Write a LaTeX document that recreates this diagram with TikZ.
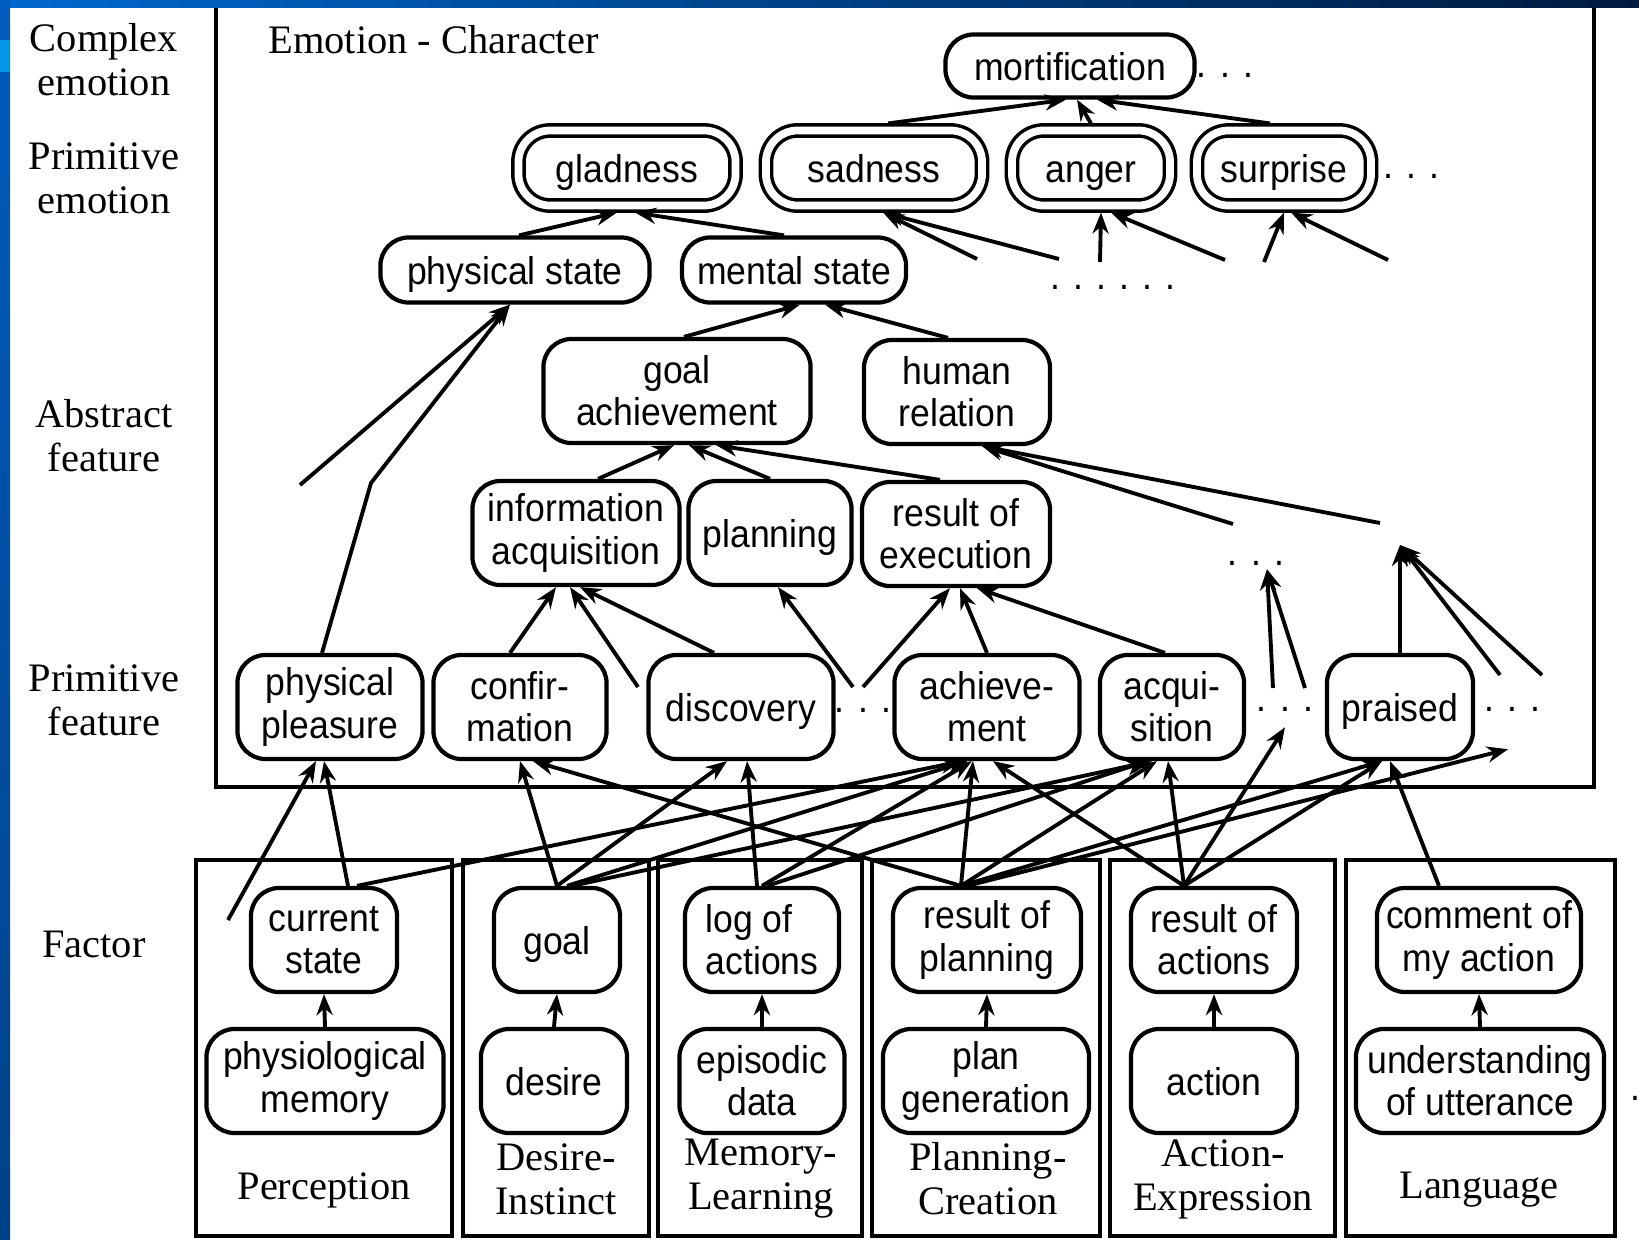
\documentclass[tikz,border=0pt]{standalone}
\usepackage{fontspec}
\newfontfamily\nodefont[FakeStretch=0.92]{Liberation Sans}
\newfontfamily\labelfont{Liberation Serif}
\usetikzlibrary{arrows.meta}

\definecolor{slideblue}{RGB}{0,104,206}
\definecolor{slidenavy}{RGB}{0,26,62}
\definecolor{sidetop}{RGB}{0,92,190}
\definecolor{sidebot}{RGB}{0,66,136}
\definecolor{sidecyan}{RGB}{0,150,230}

\tikzset{
  feat/.style={draw, line width=1.2pt, rounded corners=8pt, align=center, inner sep=1pt,
    minimum height=1.04cm, font=\nodefont\fontsize{11}{12}\selectfont},
  one/.style={text height=10pt, text depth=1.5pt},
  flat/.style={feat, one, rounded corners=8pt, minimum height=0.65cm},
  emo/.style={draw, one, line width=1pt, double, double distance=2.2pt, outer sep=2pt,
    rounded corners=9pt, inner sep=1pt, minimum height=0.75cm,
    font=\nodefont\fontsize{11}{12}\selectfont},
  more/.style={anchor=base, inner sep=1pt, font=\nodefont\fontsize{11}{12}\selectfont},
  lbl/.style={align=center, font=\labelfont\fontsize{11.5}{12.5}\selectfont},
  module/.style={draw, line width=1.2pt},
  link/.style={->, line width=1.1pt}
}

\begin{document}
\begin{tikzpicture}[x=0.01cm, y=-0.01cm, >={Stealth[length=6pt,width=4.6pt]}]
        \fill[white] (0,0) rectangle (1639,1239);
        \useasboundingbox (0,0) rectangle (1639,1239);

        % frames
        \draw[module] (216,3) rectangle (1594,787);
        \draw[module] (196,860) rectangle (452,1236);
        \draw[module] (463,860) rectangle (649,1236);
        \draw[module] (658,860) rectangle (862,1236);
        \draw[module] (872,860) rectangle (1100,1236);
        \draw[module] (1110,860) rectangle (1335,1236);
        \draw[module] (1346,860) rectangle (1615,1236);

        % level names
        \node[lbl] (lcomplex) at (104,60) {Complex\\emotion};
        \node[lbl] (lprimemo) at (104,178) {Primitive\\emotion};
        \node[lbl] (labstract) at (104,436) {Abstract\\feature};
        \node[lbl] (lprimfeat) at (104,700) {Primitive\\feature};
        \node[lbl] (lfactor) at (94,944) {Factor};
        \node[lbl, anchor=west] (ltitle) at (256,40) {Emotion - Character};

        % emotions
        \node[flat, minimum height=0.63cm, minimum width=2.49cm] (mort) at (1070,66) {mortification};
        \node[more] (dmort) at (1225,77) {. . .};
        \node[emo, minimum width=2.17cm] (glad) at (627,168) {gladness};
        \node[emo, minimum width=2.16cm] (sad) at (874,168) {sadness};
        \node[emo, minimum width=1.58cm] (anger) at (1091,168) {anger};
        \node[emo, minimum width=1.74cm] (surp) at (1284,168) {surprise};
        \node[more] (dsurp) at (1411,178) {. . .};
        \node[flat, minimum width=2.69cm] (phys) at (515,270) {physical state};
        \node[flat, minimum width=2.24cm] (ment) at (794,270) {mental state};
        \node[more] (dsix) at (1113,289) {. . . . . .};

        % abstract features
        \node[feat, minimum width=2.67cm] (goalach) at (677,391) {goal\\achievement};
        \node[feat, minimum width=1.86cm] (human) at (957,392) {human\\relation};
        \node[feat, minimum width=2.07cm] (info) at (576,533) {information\\acquisition};
        \node[feat, one, minimum width=1.63cm] (plan) at (770,533) {planning};
        \node[feat, minimum width=1.88cm] (result) at (956,534) {result of\\execution};
        \node[more] (dres) at (1256,565) {. . .};

        % primitive features
        \node[feat, minimum width=1.85cm] (pleas) at (330,707) {physical\\pleasure};
        \node[feat, minimum width=1.73cm] (confirm) at (520,707) {confir-\\mation};
        \node[feat, one, minimum width=1.85cm] (disc) at (741,707) {discovery};
        \node[more] (ddisc) at (863,712) {. . .};
        \node[feat, minimum width=1.85cm] (achieve) at (987,707) {achieve-\\ment};
        \node[feat, minimum width=1.44cm] (acqui) at (1172,707) {acqui-\\sition};
        \node[more] (dacq) at (1285,711) {. . .};
        \node[feat, one, minimum width=1.46cm] (praise) at (1400,707) {praised};
        \node[more] (dpraise) at (1512,711) {. . .};

        % factors
        \node[feat, minimum width=1.46cm] (cur) at (324,940) {current\\state};
        \node[feat, one, minimum width=1.26cm] (goal) at (557,940) {goal};
        \node[feat, minimum width=1.54cm, align=left] (logact) at (762,940) {log of\\actions};
        \node[feat, minimum width=1.88cm] (resplan) at (987,940) {result of\\planning};
        \node[feat, minimum width=1.66cm] (resact) at (1214,940) {result of\\actions};
        \node[feat, minimum width=2.04cm] (comment) at (1479,940) {comment of\\my action};

        \node[feat, minimum width=2.37cm] (physmem) at (325,1081) {physiological\\memory};
        \node[feat, one, minimum width=1.46cm] (desire) at (554,1081) {desire};
        \node[feat, minimum width=1.65cm] (episod) at (762,1081) {episodic\\data};
        \node[feat, minimum width=2.06cm] (plangen) at (986,1081) {plan\\generation};
        \node[feat, one, minimum width=1.66cm] (action) at (1214,1081) {action};
        \node[feat, minimum width=2.48cm] (underst) at (1480,1081) {understanding\\of utterance};
        \node[more] (dend) at (1635,1100) {.};

        % module names
        \node[lbl] (lperc) at (324,1190) {Perception};
        \node[lbl] (ldesire) at (556,1179) {Desire-\\Instinct};
        \node[lbl] (lmemory) at (761,1179) {Memory-\\Learning};
        \node[lbl] (lplanning) at (988,1179) {Planning-\\Creation};
        \node[lbl] (laction) at (1223,1179) {Action-\\Expression};
        \node[lbl] (llang) at (1479,1190) {Language};

        % loose ends
        \coordinate (c1) at (977,259);
        \coordinate (c2) at (1059,259);
        \coordinate (c3) at (1100,262);
        \coordinate (c4) at (1225,260);
        \coordinate (c5) at (1264,262);
        \coordinate (c6) at (1388,260);
        \coordinate (c7) at (300,485);
        \coordinate (c8) at (371,483);
        \coordinate (c9) at (1233,524);
        \coordinate (c10) at (1380,523);
        \coordinate (c11) at (638,687);
        \coordinate (c12) at (853,687);
        \coordinate (c13) at (863,687);
        \coordinate (c14) at (1273,688);
        \coordinate (c15) at (1305,688);
        \coordinate (c16) at (1400,545);
        \coordinate (c17) at (1500,675);
        \coordinate (c18) at (1542,675);
        \coordinate (c19) at (228,920);

        % upper links
        \draw[link] ([xshift=0.14cm]sad.north) -- ([xshift=-0.04cm]mort.south);
        \draw[link] (anger.north) -- ([xshift=0.07cm]mort.south);
        \draw[link] ([xshift=-0.14cm]surp.north) -- ([xshift=0.27cm]mort.south);
        \draw[link] ([xshift=0.04cm]phys.north) -- ([xshift=-0.1cm]glad.south);
        \draw[link] ([xshift=-0.1cm]ment.north) -- ([xshift=0.08cm]glad.south);
        \draw[link] (c1) -- ([xshift=0.09cm]sad.south);
        \draw[link] (c2) -- ([xshift=0.09cm]sad.south);
        \draw[link] (c3) -- ([xshift=0.1cm]anger.south);
        \draw[link] (c4) -- ([xshift=0.2cm]anger.south);
        \draw[link] (c5) -- (surp.south);
        \draw[link] (c6) -- ([xshift=0.07cm]surp.south);
        \draw[link] (c7) -- ([xshift=-0.05cm]phys.south);
        \draw[link] ([xshift=-0.08cm]pleas.north) -- (c8) -- ([xshift=-0.05cm]phys.south);
        \draw[link] ([xshift=0.07cm]goalach.north) -- ([xshift=0.06cm]ment.south);
        \draw[link] ([xshift=-0.09cm]human.north) -- ([xshift=0.31cm]ment.south);
        \draw[link] ([xshift=0.22cm]info.north) -- ([xshift=-0.03cm]goalach.south);
        \draw[link] (plan.north) -- ([xshift=0.12cm]goalach.south);
        \draw[link] ([xshift=-0.16cm]result.north) -- ([xshift=0.39cm]goalach.south);
        \draw[link] (c9) -- ([xshift=0.25cm]human.south);
        \draw[link] (c10) -- ([xshift=0.25cm]human.south);
        \draw[link] ([xshift=-0.1cm]confirm.north) -- ([xshift=-0.2cm]info.south);
        \draw[link] (c11) -- ([xshift=-0.06cm]info.south);
        \draw[link] ([xshift=-0.27cm]disc.north) -- ([xshift=0.04cm]info.south);
        \draw[link] (c12) -- ([xshift=0.08cm]plan.south);
        \draw[link] (c13) -- ([xshift=-0.06cm]result.south);
        \draw[link] (achieve.north) -- ([xshift=0.04cm]result.south);
        \draw[link] ([xshift=-0.07cm]acqui.north) -- ([xshift=0.21cm]result.south);
        \draw[link] (c14) -- ([xshift=0.11cm]dres.south);
        \draw[link] (c15) -- ([xshift=0.11cm]dres.south);
        \draw[link] (praise.north) -- (c16);
        \draw[link] (c17) -- (c16);
        \draw[link] (c18) -- (c16);

        % factor links
        \draw[link] (c19) -- ([xshift=-0.14cm]pleas.south);
        \draw[link] ([xshift=0.24cm]cur.north) -- ([xshift=-0.06cm]pleas.south);
        \draw[link] (goal.north) -- (confirm.south);
        \draw[link] ([xshift=-0.26cm]resplan.north) -- ([xshift=0.13cm]confirm.south);
        \draw[link] (goal.north) -- ([xshift=-0.14cm]disc.south);
        \draw[link] ([xshift=-0.05cm]logact.north) -- ([xshift=0.06cm]disc.south);
        \draw[link] ([xshift=0.33cm]cur.north) -- ([xshift=-0.25cm]achieve.south);
        \draw[link] ([xshift=0.1cm]goal.north) -- ([xshift=-0.2cm]achieve.south);
        \draw[link] (logact.north) -- ([xshift=-0.15cm]achieve.south);
        \draw[link] ([xshift=-0.26cm]resplan.north) -- ([xshift=-0.14cm]achieve.south);
        \draw[link] ([xshift=-0.3cm]resact.north) -- ([xshift=0.06cm]achieve.south);
        \draw[link] ([xshift=0.15cm]goal.north) -- ([xshift=-0.2cm]acqui.south);
        \draw[link] ([xshift=0.05cm]logact.north) -- ([xshift=-0.25cm]acqui.south);
        \draw[link] ([xshift=-0.26cm]resplan.north) -- ([xshift=-0.15cm]acqui.south);
        \draw[link] ([xshift=-0.3cm]resact.north) -- ([xshift=-0.04cm]acqui.south);
        \draw[link] ([xshift=-0.3cm]resact.north) -- ([yshift=-0.12cm]dacq.south);
        \draw[link] ([xshift=-0.26cm]resplan.north) -- ([xshift=-0.18cm]praise.south);
        \draw[link] ([xshift=-0.3cm]resact.north) -- ([xshift=-0.18cm]praise.south);
        \draw[link] ([xshift=-0.4cm]comment.north) -- ([xshift=-0.1cm]praise.south);
        \draw[link] ([xshift=-0.2cm]resplan.north) -- ([xshift=-0.04cm,yshift=-0.34cm]dpraise.south);

        \draw[link] (physmem.north) -- (cur.south);
        \draw[link] (desire.north) -- (goal.south);
        \draw[link] (episod.north) -- (logact.south);
        \draw[link] (plangen.north) -- (resplan.south);
        \draw[link] (action.north) -- (resact.south);
        \draw[link] (underst.north) -- (comment.south);

        % slide border
        \shade[left color=slideblue, right color=slidenavy] (0,0) rectangle (1639,7);
        \shade[top color=sidetop, bottom color=sidebot] (0,0) rectangle (10,1239);
        \fill[sidecyan] (0,40) rectangle (10,72);
      \end{tikzpicture}
\end{document}
